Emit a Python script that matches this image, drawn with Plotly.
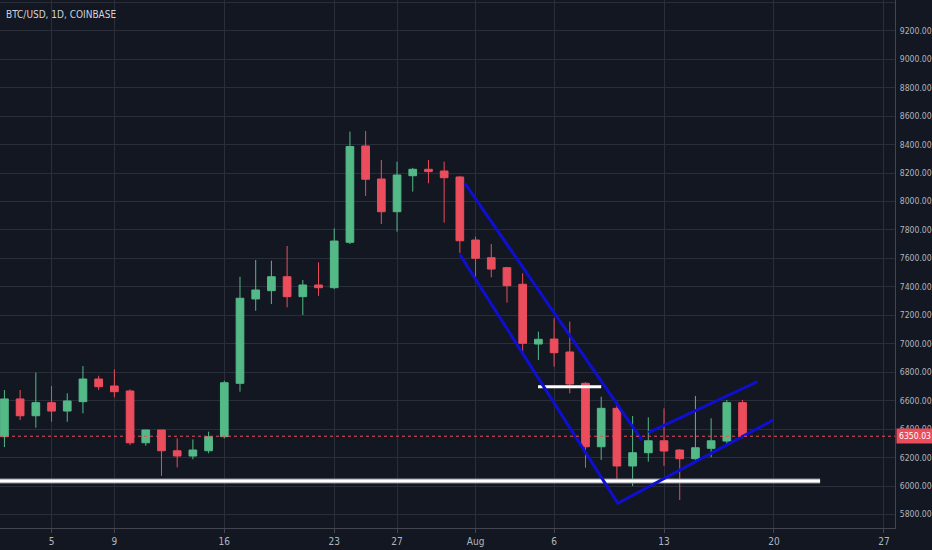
import pandas as pd
import plotly.graph_objects as go

# daily BTC/USD candles, Jul 2 .. Aug 18
start_day = "2018-07-02"
opens = [6347, 6612, 6494, 6586, 6527, 6593, 6752, 6703, 6668, 6304, 6394, 6248, 6211, 6248,
         6347, 6722, 7315, 7373, 7471, 7331, 7413, 7394, 7713, 8390, 8158, 7928, 8181, 8226,
         8214, 8172, 7729, 7605, 7535, 7418, 6998, 7033, 6942, 6722, 6276, 6546, 6141, 6234,
         6318, 6253, 6192, 6265, 6316, 6586]
highs = [6675, 6675, 6797, 6703, 6652, 6843, 6775, 6820, 6680, 6394, 6394, 6335, 6328, 6382,
         6740, 7471, 7589, 7584, 7687, 7448, 7572, 7811, 8491, 8496, 8292, 8280, 8236, 8292,
         8280, 8180, 7753, 7701, 7540, 7495, 7085, 7179, 7155, 6730, 6628, 6593, 6492, 6483,
         6546, 6260, 6633, 6476, 6605, 6605]
lows = [6274, 6464, 6410, 6452, 6452, 6511, 6675, 6624, 6288, 6283, 6072, 6131, 6188, 6230,
        6335, 6663, 7232, 7279, 7256, 7202, 7336, 7383, 7701, 8039, 7842, 7788, 8069, 8128,
        7851, 7638, 7448, 7467, 7289, 6933, 6886, 6839, 6652, 6129, 6183, 6023, 6000, 6171,
        6141, 5902, 6185, 6202, 6281, 6335]
closes = [6612, 6494, 6586, 6527, 6598, 6752, 6698, 6663, 6304, 6394, 6248, 6211, 6253, 6347,
          6726, 7320, 7378, 7471, 7331, 7413, 7394, 7722, 8386, 8156, 7928, 8186, 8226, 8210,
          8167, 7724, 7601, 7525, 7408, 7003, 7031, 6937, 6717, 6276, 6546, 6141, 6234, 6318,
          6246, 6192, 6269, 6318, 6586, 6350.03]
last_price = 6350.03

# drawings on the chart (time, price)
chan_top_x = ["2018-07-31 07:40", "2018-08-11 14:10"]
chan_top_y = [8128, 6323]
chan_low_x = ["2018-07-30 23:45", "2018-08-10 01:25", "2018-08-19 23:00"]
chan_low_y = [7629, 5878, 6464]
rise_top_x = ["2018-08-12 00:15", "2018-08-18 22:30"]
rise_top_y = [6375, 6733]
support_x = ["2018-06-30", "2018-08-22 22:30"]
support_y = [6035, 6035]
short_x = ["2018-08-04 23:30", "2018-08-09 00:00"]
short_y = [6698, 6698]

tick_dates = ["2018-07-05", "2018-07-09", "2018-07-16", "2018-07-23", "2018-07-27",
              "2018-08-01", "2018-08-06", "2018-08-13", "2018-08-20", "2018-08-27"]
tick_text = ["5", "9", "16", "23", "27", "Aug", "6", "13", "20", "27"]

dates = pd.date_range(start_day, periods=len(opens), freq="D")

bg = "#131722"
grid = "#2a2e39"
up = "#53b987"
down = "#eb4d5c"
blue = "#0f0fd2"
fnt = "Liberation Sans Narrow, DejaVu Sans Condensed, Arial"

fig = go.Figure()

# white horizontal levels
fig.add_trace(go.Scatter(x=support_x, y=support_y, mode="lines",
                         line=dict(color="#8a8d95", width=5), hoverinfo="skip"))
fig.add_trace(go.Scatter(x=support_x, y=support_y, mode="lines",
                         line=dict(color="white", width=3), hoverinfo="skip"))
fig.add_trace(go.Scatter(x=short_x, y=short_y, mode="lines",
                         line=dict(color="white", width=3), hoverinfo="skip"))

fig.add_trace(go.Candlestick(
    x=dates, open=opens, high=highs, low=lows, close=closes,
    increasing=dict(line=dict(color=up, width=1), fillcolor=up),
    decreasing=dict(line=dict(color=down, width=1), fillcolor=down),
    whiskerwidth=0,
))

# blue trend lines
for xs, ys in [(chan_top_x, chan_top_y), (chan_low_x, chan_low_y), (rise_top_x, rise_top_y)]:
    fig.add_trace(go.Scatter(x=xs, y=ys, mode="lines",
                             line=dict(color=blue, width=3), hoverinfo="skip"))

fig.add_shape(type="line", xref="paper", x0=0, x1=1, yref="y", y0=last_price, y1=last_price,
              line=dict(color=down, width=1, dash="dot"))

fig.add_annotation(xref="paper", x=1.0, y=last_price, text=f"{last_price:.2f}",
                   showarrow=False, xanchor="left", xshift=1, bgcolor=down,
                   font=dict(color="white", size=8.6, family=fnt),
                   borderpad=2)

fig.add_annotation(xref="paper", yref="paper", x=0, y=1, xshift=4, yshift=-7,
                   text="BTC/USD, 1D, COINBASE", showarrow=False,
                   xanchor="left", yanchor="top",
                   font=dict(color="#d1d4dc", size=10, family=fnt))

fig.update_layout(
    width=932, height=550,
    paper_bgcolor=bg, plot_bgcolor=bg,
    margin=dict(l=0, r=35, t=0, b=22),
    showlegend=False,
    font=dict(family=fnt, size=8.6, color="#b2b5be"),
    xaxis=dict(
        type="date",
        range=["2018-07-01 17:14", "2018-08-27 17:00"],
        rangeslider=dict(visible=False),
        tickvals=tick_dates, ticktext=tick_text,
        tickfont=dict(size=10),
        showgrid=True, gridcolor=grid, gridwidth=1,
        showline=True, linecolor="#434651", mirror=False,
        ticks="outside", ticklen=4, tickcolor="#434651",
        zeroline=False,
    ),
    yaxis=dict(
        side="right",
        range=[5705, 9416],
        dtick=200, tick0=5800, tickformat=".2f",
        showgrid=True, gridcolor=grid, gridwidth=1,
        showline=True, linecolor="#434651",
        ticks="", ticklabelstandoff=2,
        zeroline=False,
    ),
)

fig.write_html("out.html", config={"displayModeBar": False},
               post_script="document.body.style.margin='0';document.body.style.background='#131722';")
